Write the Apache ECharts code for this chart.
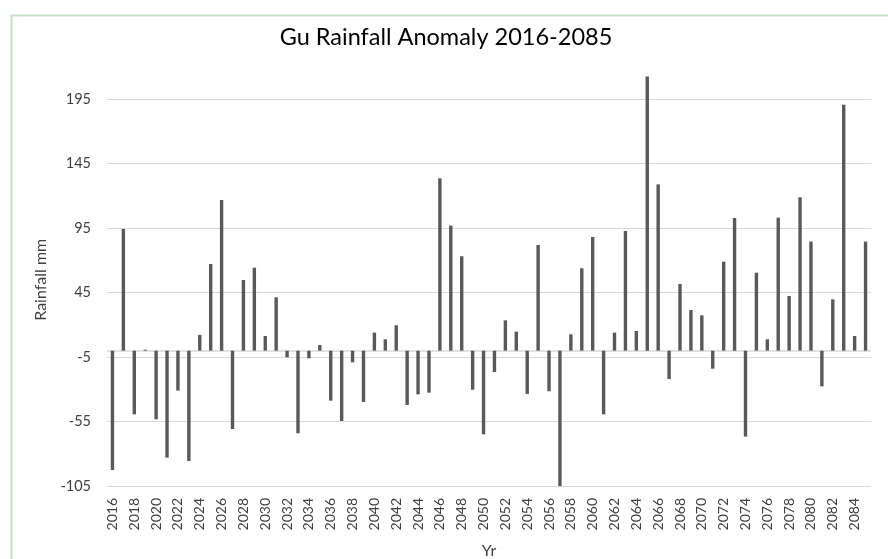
<!DOCTYPE html>
<html lang="en" style="height: 100%">

<head>
  <meta charset="utf-8">
</head>

<body style="height: 100%; margin: 0">
  <div id="container" style="height: 100%"></div>

  <script type="text/javascript" src="https://cdn.jsdelivr.net/npm/echarts@6/dist/echarts.min.js"></script>

  <script type="text/javascript">
    var dom = document.getElementById('container');
    var myChart = echarts.init(dom, null, { renderer: 'canvas' });

    // years 2016..2085
    var years = [
      '2016', '2017', '2018', '2019', '2020', '2021', '2022', '2023', '2024', '2025',
      '2026', '2027', '2028', '2029', '2030', '2031', '2032', '2033', '2034', '2035',
      '2036', '2037', '2038', '2039', '2040', '2041', '2042', '2043', '2044', '2045',
      '2046', '2047', '2048', '2049', '2050', '2051', '2052', '2053', '2054', '2055',
      '2056', '2057', '2058', '2059', '2060', '2061', '2062', '2063', '2064', '2065',
      '2066', '2067', '2068', '2069', '2070', '2071', '2072', '2073', '2074', '2075',
      '2076', '2077', '2078', '2079', '2080', '2081', '2082', '2083', '2084', '2085'
    ];

    // rainfall anomaly (mm)
    var anomaly = [
      -92.6, 94.4, -49.4, 0.8, -53.3, -83.0, -31.0, -85.6, 12.2, 67.2,
      116.9, -60.8, 54.8, 64.4, 11.4, 41.4, -5.2, -64.1, -5.9, 4.4,
      -38.8, -54.6, -9.1, -39.8, 14.0, 8.8, 19.7, -42.2, -33.9, -32.6,
      133.7, 97.0, 73.2, -30.3, -64.9, -16.6, 23.5, 14.7, -33.6, 82.0,
      -31.5, -105, 12.7, 63.9, 88.2, -49.4, 14.0, 92.8, 15.3, 212.6,
      129.0, -22.0, 51.7, 31.5, 27.4, -14.0, 69.0, 102.9, -66.7, 60.5,
      8.8, 103.2, 42.4, 119.0, 84.6, -27.7, 39.8, 190.8, 11.4, 84.6
    ];

    var yMin = -105;
    var yMax = 215;
    var yStep = 50;

    var fontName = 'Lato, "Liberation Sans", sans-serif';

    var option = {
      backgroundColor: '#ffffff',
      animation: false,
      title: {
        text: 'Gu Rainfall Anomaly 2016-2085',
        left: 441,
        top: 20,
        textAlign: 'center',
        textStyle: {
          fontFamily: fontName,
          fontSize: 23.5,
          fontWeight: 'normal',
          color: '#000000'
        }
      },
      graphic: [{
        type: 'rect',
        left: 9,
        top: 13,
        shape: { width: 1000, height: 1000 },
        style: { fill: 'none', stroke: '#c5e0c5', lineWidth: 2 },
        silent: true
      }],
      grid: {
        left: 107,
        right: 17,
        top: 73.5,
        bottom: 73,
        outerBoundsMode: 'none',
        containLabel: false
      },
      xAxis: {
        type: 'category',
        data: years,
        position: 'bottom',
        name: 'Yr',
        nameLocation: 'middle',
        nameGap: 57,
        nameTextStyle: { fontFamily: fontName, fontSize: 16, color: '#404040' },
        axisLine: { show: false, onZero: false },
        axisTick: { show: false },
        axisLabel: {
          interval: 1,
          rotate: 90,
          margin: 12,
          fontFamily: fontName,
          fontSize: 14,
          color: '#404040'
        },
        splitLine: { show: false }
      },
      yAxis: {
        type: 'value',
        min: yMin,
        max: yMax,
        interval: yStep,
        name: 'Rainfall mm',
        nameLocation: 'middle',
        nameGap: 58,
        nameTextStyle: { fontFamily: fontName, fontSize: 16, color: '#404040' },
        axisLine: { show: false },
        axisTick: { show: false },
        axisLabel: {
          showMaxLabel: false,
          margin: 16,
          fontFamily: fontName,
          fontSize: 14.5,
          color: '#404040'
        },
        splitLine: {
          showMaxLine: false,
          lineStyle: { color: '#d9d9d9', width: 1 }
        }
      },
      series: [
        {
          name: 'Gu Rainfall Anomaly',
          type: 'bar',
          data: anomaly,
          barWidth: 3.4,
          itemStyle: { color: '#595959' },
          // horizontal category axis line crossing at zero
          markLine: {
            silent: true,
            symbol: 'none',
            label: { show: false },
            lineStyle: { color: '#d9d9d9', width: 1.5, type: 'solid' },
            data: [{ yAxis: 0 }],
            z: 1
          }
        }
      ]
    };

    myChart.setOption(option);

    window.addEventListener('resize', myChart.resize);
  </script>
</body>

</html>
